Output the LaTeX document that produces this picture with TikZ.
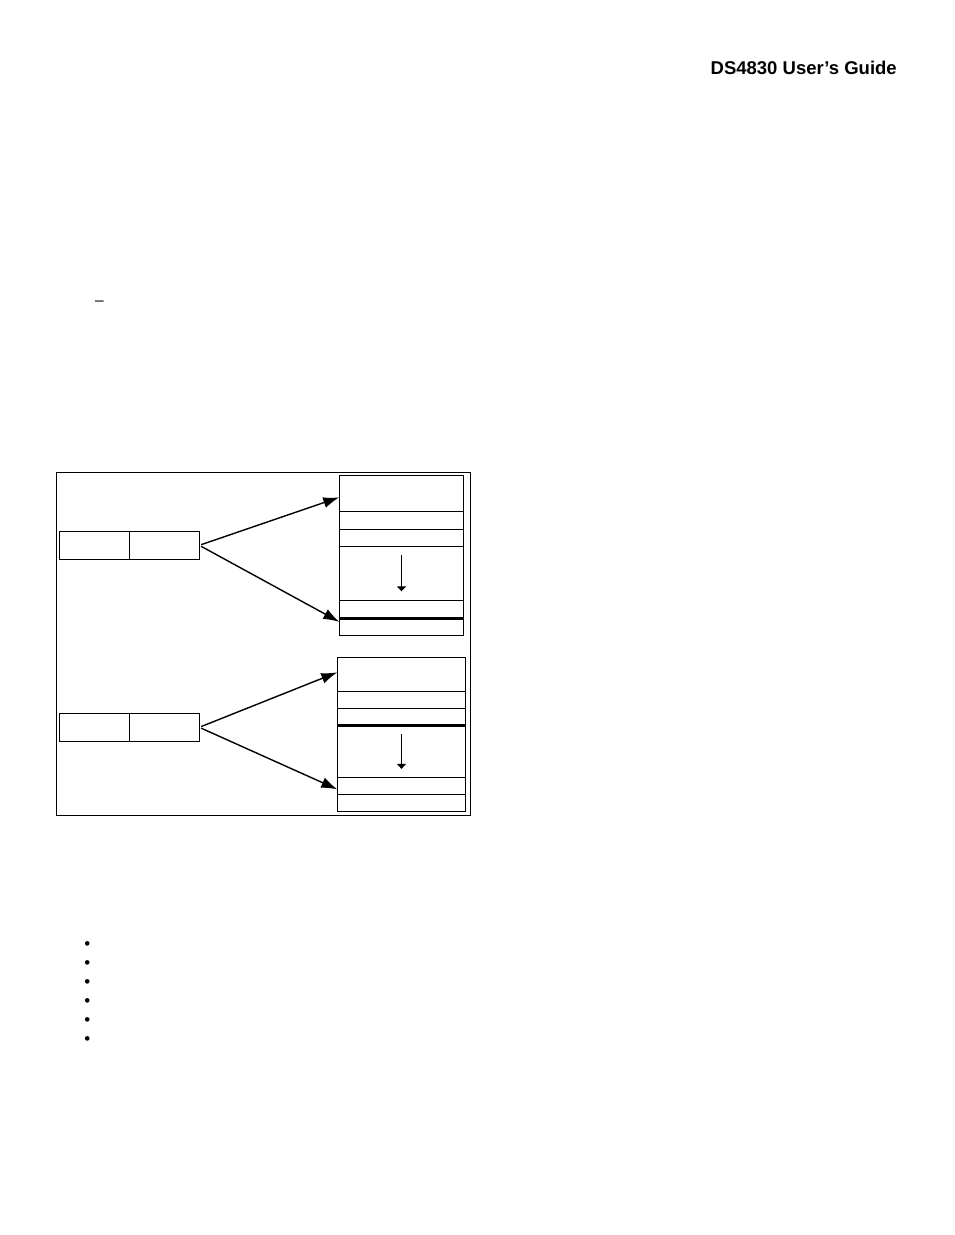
\documentclass[tikz,border=0pt]{standalone}
\usepackage{fontspec}
\setmainfont{Liberation Sans}
\usepackage{tikz}
\usetikzlibrary{positioning}
\usetikzlibrary{calc}
\usetikzlibrary{arrows.meta}
\tikzstyle{reg} = [draw, rectangle, line width=1.4pt, minimum height=28pt, minimum width=70pt, outer sep=0pt, inner sep=0pt]
\tikzstyle{cellA} = [draw, rectangle, line width=1.4pt, minimum width=124.4pt, outer sep=0pt, inner sep=0pt]
\tikzstyle{cellB} = [cellA, minimum width=128.4pt]
\tikzstyle{ptr} = [-{Latex[length=16pt,width=11pt]}, line width=1.4pt, shorten <=2pt]
\tikzstyle{growarrow} = [-{Triangle[length=5pt,width=9pt]}, line width=1.4pt]
\tikzstyle{sep} = [line width=3pt]
\tikzstyle{bul} = [anchor=base, inner sep=0pt, font=\fontsize{17}{20}\selectfont]

\begin{document}
\begin{tikzpicture}[x=1pt,y=-1pt]%[pixel grid of the page]
    \useasboundingbox (0,0) rectangle (954,1235);
    \node [anchor=base east, inner sep=0pt, font=\bfseries\fontsize{18.5}{22}\selectfont] (title) at (897,74) {DS4830 User’s Guide};
    \node [anchor=base west, inner sep=0pt, font=\fontsize{15.6}{18}\selectfont] (dash) at (95,305) {–};

    \node [draw, line width=1.4pt, minimum width=414pt, minimum height=343.4pt, outer sep=0pt] (frame) at (263.7,644) {};

    % upper pointer
    \node [reg] (hiA) at (94.3,545.3) {};
    \node [reg, right=0pt of hiA] (loA) {};
    \node [cellA, minimum height=36pt] (celA1) at (401.5,493.3) {};
    \node [cellA, minimum height=18pt, below=0pt of celA1] (celA2) {};
    \node [cellA, minimum height=17pt, below=0pt of celA2] (celA3) {};
    \node [cellA, minimum height=54pt, below=0pt of celA3] (celA4) {};
    \node [cellA, minimum height=18pt, below=0pt of celA4] (celA5) {};
    \node [cellA, minimum height=17pt, below=0pt of celA5] (celA6) {};
    \draw [sep] (celA5.south west) -- (celA5.south east);
    \draw [growarrow] ([yshift=18pt]celA4.center) -- ([yshift=-18pt]celA4.center);
    \draw [ptr] (loA.east) -- ([yshift=-4pt]celA1.west);
    \draw [ptr] (loA.east) -- ([yshift=5pt]celA6.west);

    % lower pointer
    \node [reg] (hiB) at (94.3,727.3) {};
    \node [reg, right=0pt of hiB] (loB) {};
    \node [cellB, minimum height=34pt] (celB1) at (401.5,674.3) {};
    \node [cellB, minimum height=17pt, below=0pt of celB1] (celB2) {};
    \node [cellB, minimum height=17.5pt, below=0pt of celB2] (celB3) {};
    \node [cellB, minimum height=51.5pt, below=0pt of celB3] (celB4) {};
    \node [cellB, minimum height=17pt, below=0pt of celB4] (celB5) {};
    \node [cellB, minimum height=17pt, below=0pt of celB5] (celB6) {};
    \draw [sep] (celB3.south west) -- (celB3.south east);
    \draw [growarrow] ([yshift=17.3pt]celB4.center) -- ([yshift=-17.3pt]celB4.center);
    \draw [ptr] (loB.east) -- ([yshift=2pt]celB1.west);
    \draw [ptr] (loB.east) -- ([yshift=-3.5pt]celB5.west);

    \foreach \y [count=\i] in {949.8,968.8,987.8,1006.8,1025.8,1044.8}
        \node [bul] (bul\i) at (87.3,\y) {•};
\end{tikzpicture}
\end{document}
